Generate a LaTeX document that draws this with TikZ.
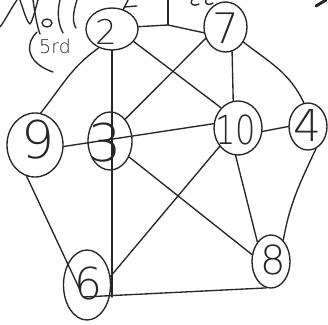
\documentclass[tikz,border=0pt]{standalone}
\usepackage{fontspec}
\usetikzlibrary{shapes.geometric}
\newfontfamily\handfont{DejaVu Sans ExtraLight}
\tikzset{
  pen/.style={line width=1.35pt, draw=black!85, line cap=round, line join=round},
  vtx/.style={pen, ellipse, inner sep=0pt},
  digit/.style={inner sep=0pt, text=black!85, font=\handfont\fontsize{#1}{#1}\selectfont},
}
\begin{document}
\begin{tikzpicture}[x=1pt,y=1pt]
\useasboundingbox (0,0) rectangle (328,324);
% vertices
\node[vtx, minimum width=52pt, minimum height=42pt] (n2) at (112,295) {};
\node[vtx, minimum width=43pt, minimum height=50pt] (n7) at (225.5,297) {};
\node[vtx, minimum width=56pt, minimum height=64pt] (n9) at (35,179) {};
\node[vtx, minimum width=44pt, minimum height=58pt] (n3) at (110,183) {};
\node[vtx, minimum width=48pt, minimum height=54pt] (n10) at (238,196) {};
\node[vtx, minimum width=38pt, minimum height=47pt] (n4) at (308,197.5) {};
\node[vtx, minimum width=47pt, minimum height=70pt] (n6) at (87,39) {};
\node[vtx, minimum width=38pt, minimum height=53pt] (n8) at (271,62.5) {};
% labels
\node[digit=34] (l2) at (106,292) {2};
\node[digit=42] (l7) at (226,296) {7};
\node[digit=52] (l9) at (38,184) {9};
\node[digit=52] (l3) at (105,181) {3};
\node[digit=40, xscale=0.8] (l10) at (236,194) {10};
\node[digit=44] (l4) at (307,199) {4};
\node[digit=40] (l8) at (273,64) {8};
\node[digit=44] (l6) at (88,41) {6};
\node[digit=19] (l5) at (55,278) {5rd};
% free ends
\coordinate (j1) at (168,299);
\coordinate (t1) at (168,324);
\coordinate (t2) at (128,324);
\coordinate (v6) at (112,27);
\coordinate (i6) at (80,34);
\coordinate (i6b) at (83,27);
% edges
\draw[pen] (n2.5) -- (j1) -- (n7.-165);
\draw[pen] (j1) -- (t1);
\draw[pen] (n2.60) -- (t2);
\draw[pen] (124,317) -- (137,318);
\draw[pen] (n2.235) to[out=215,in=51] (n9.80);
\draw[pen] (n2.south) -- (v6);
\draw[pen] (n2.-30) -- (n10.130);
\draw[pen] (n7.-150) -- (n3.55);
\draw[pen] (n7.-75) -- (n10.100);
\draw[pen] (n7.-40) to[out=-38,in=115] (n4.100);
\draw[pen] (n9.-3) -- (n10.170);
\draw[pen] (n10.-8) -- (n4.180);
\draw[pen] (n9.255) -- (i6);
\draw[pen] (n3.-40) -- (n8.160);
\draw[pen] (n10.225) -- (n6.20);
\draw[pen] (n10.-95) -- (n8.125);
\draw[pen] (n4.-70) to[out=-115,in=80] (n8.60);
\draw[pen] (i6b) -- (n8.-100);
% scribbles at the top left
\draw[pen] (0,297) .. controls (6,305) and (10,314) .. (17,324);
\draw[pen] (20,324) .. controls (24,312) and (27,302) .. (30,300) .. controls (33,304) and (35,314) .. (38,324);
\draw[pen] (33,324) .. controls (35,310) and (37,298) .. (40,290);
\draw[pen] (47,301) ellipse [x radius=5, y radius=4];
\draw[pen] (37,292) .. controls (26,282) and (24,262) .. (53,252);
\draw[pen] (60,324) .. controls (57,312) and (58,300) .. (63,291);
\draw[pen] (77,324) .. controls (73,312) and (72,302) .. (76,296);
% small marks at the top right
\draw[pen] (192,324) .. controls (189,320) and (194,317) .. (199,320);
\draw[pen] (206,324) .. controls (204,320) and (209,318) .. (213,321);
\draw[line width=3pt, draw=black!85, line cap=round] (316,318) -- (326,324);
\end{tikzpicture}
\end{document}
